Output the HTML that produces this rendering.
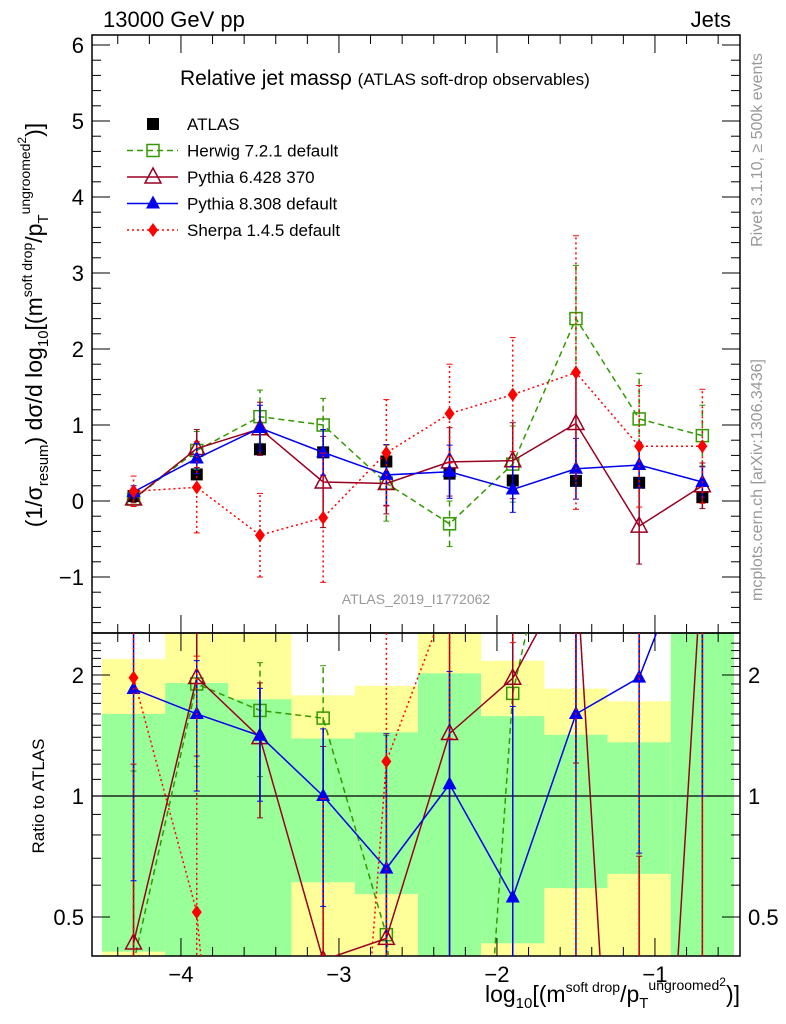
<!DOCTYPE html>
<html><head><meta charset="utf-8"><style>
html,body{margin:0;padding:0;background:#fff;overflow:hidden;width:786px;height:1024px;}
svg{display:block;}
svg text{font-family:"Liberation Sans",sans-serif;}
</style></head><body>
<svg id="c" width="786" height="1024" xmlns="http://www.w3.org/2000/svg"></svg>
<script>
const xCenters=[-4.3,-3.9,-3.5,-3.1,-2.7,-2.3,-1.9,-1.5,-1.1,-0.7];
const binEdges=[-4.5,-4.1,-3.7,-3.3,-2.9,-2.5,-2.1,-1.7,-1.3,-0.9,-0.5];
const atlasVals=[0.065,0.35,0.68,0.64,0.52,0.36,0.27,0.265,0.24,0.05];
const atlasErr=[0.03,0.05,0.06,0.06,0.07,0.08,0.06,0.06,0.06,0.04];
const herwigVals=[0.025,0.665,1.11,1.0,0.235,-0.30,0.486,2.40,1.08,0.86];
const herwigErr=[0.05,0.25,0.35,0.35,0.5,0.3,0.5,0.7,0.6,0.4];
const py6Vals=[0.028,0.69,0.95,0.25,0.23,0.515,0.53,1.02,-0.33,0.20];
const py6Err=[0.05,0.25,0.35,0.6,0.4,0.45,0.5,0.7,0.5,0.3];
const py8Vals=[0.12,0.56,0.96,0.64,0.343,0.385,0.151,0.424,0.473,0.25];
const py8Err=[0.08,0.2,0.3,0.3,0.4,0.35,0.3,0.4,0.3,0.2];
const sherpaVals=[0.128,0.18,-0.45,-0.22,0.634,1.15,1.40,1.69,0.72,0.72];
const sherpaErr=[0.2,0.6,0.55,0.85,0.7,0.65,0.75,1.8,0.8,0.75];
const greenLo=[0.41,0.3,0.3,0.61,0.57,0.3,0.43,0.59,0.64,0.3];
const greenHi=[1.60,1.91,1.74,1.39,1.44,2.02,1.58,1.42,1.36,3];
const yellowLo=[0.3,0.3,0.3,0.3,0.3,0.3,0.3,0.3,0.3,0.3];
const yellowHi=[2.19,3,3,1.78,1.88,3,2.17,1.85,1.72,3];
const mainYTicks=[-1,0,1,2,3,4,5,6];
const mainYLabels=["\u22121","0","1","2","3","4","5","6"];
const xTicks=[-4,-3,-2,-1];
const xLabels=["\u22124","\u22123","\u22122","\u22121"];
const ratioTicks=[0.5,1,2];
const ratioLabels=["0.5","1","2"];

const NS="http://www.w3.org/2000/svg";
const svg=document.getElementById('c');
const L=92,R=740,T=35,MB=633,RB=956;
const X=v=>L+(v+4.563)*158;
const Y=v=>501-v*76;
const YR=r=>796-Math.log2(r)*121;
function el(tag,at,parent){const e=document.createElementNS(NS,tag);for(const k in at)e.setAttribute(k,at[k]);(parent||svg).appendChild(e);return e;}
function txt(s,at,parent){const e=el('text',at,parent);e.textContent=s;return e;}

const defs=el('defs',{});
const cp1=el('clipPath',{id:'cm'},defs);el('rect',{x:L,y:T,width:R-L,height:MB-T},cp1);
const cp2=el('clipPath',{id:'cr'},defs);el('rect',{x:L,y:MB,width:R-L,height:RB-MB},cp2);

const gb=el('g',{'clip-path':'url(#cr)'});

for(let i=0;i<xCenters.length;i++){
  const x0=X(binEdges[i]),x1=X(binEdges[i+1]);
  const y=el('rect',{x:x0,y:YR(yellowHi[i]),width:x1-x0,height:YR(yellowLo[i])-YR(yellowHi[i]),fill:'#ffff99'},gb);
  
  const g=el('rect',{x:x0,y:YR(greenHi[i]),width:x1-x0,height:YR(greenLo[i])-YR(greenHi[i]),fill:'#99ff99'},gb);
  
}
el('line',{x1:L,x2:R,y1:YR(1),y2:YR(1),stroke:'#000','stroke-width':1.2});

el('rect',{x:L,y:T,width:R-L,height:MB-T,fill:'none',stroke:'#000','stroke-width':1.5});
el('rect',{x:L,y:MB,width:R-L,height:RB-MB,fill:'none',stroke:'#000','stroke-width':1.5});

for(let v=-1.6;v<=6.1;v+=0.2){const vv=Math.round(v*10)/10;const maj=Math.abs(vv-Math.round(vv))<1e-6;const len=maj?18:9;
  el('line',{x1:L,x2:L+len,y1:Y(vv),y2:Y(vv),stroke:'#000'});el('line',{x1:R,x2:R-len,y1:Y(vv),y2:Y(vv),stroke:'#000'});}
mainYTicks.forEach((v,i)=>{const t=txt(mainYLabels[i],{x:L-8,y:Y(v)+8,'font-size':22,'text-anchor':'end'});});
for(let v=-4.4;v<=-0.5;v+=0.2){const vv=Math.round(v*10)/10;const maj=Math.abs(vv-Math.round(vv))<1e-6;const len=maj?18:9;
  [MB,RB].forEach(b=>{el('line',{x1:X(vv),x2:X(vv),y1:b,y2:b-len,stroke:'#000'});});
  [T,MB].forEach(b=>{el('line',{x1:X(vv),x2:X(vv),y1:b,y2:b+len,stroke:'#000'});});}
xTicks.forEach((v,i)=>{const t=txt(xLabels[i],{x:X(v),y:RB+26,'font-size':22,'text-anchor':'middle'});});
for(let r=0.4;r<=2.5;r+=0.1){const rr=Math.round(r*10)/10;const maj=ratioTicks.includes(rr);const len=maj?18:9;
  el('line',{x1:L,x2:L+len,y1:YR(rr),y2:YR(rr),stroke:'#000'});el('line',{x1:R,x2:R-len,y1:YR(rr),y2:YR(rr),stroke:'#000'});}
ratioTicks.forEach((v,i)=>{
  const a=txt(ratioLabels[i],{x:L-8,y:YR(v)+8,'font-size':22,'text-anchor':'end'});
  const b=txt(ratioLabels[i],{x:R+8,y:YR(v)+8,'font-size':22});});

function marker(g,type,x,y,color){
  if(type==='sq-open')el('rect',{x:x-6,y:y-6,width:12,height:12,fill:'#fff','fill-opacity':0,stroke:color,'stroke-width':1.5},g);
  if(type==='sq')el('rect',{x:x-6,y:y-6,width:12,height:12,fill:color},g);
  if(type==='tri-open')el('path',{d:`M${x},${y-9}L${x+8},${y+6}L${x-8},${y+6}Z`,fill:'none',stroke:color,'stroke-width':1.5},g);
  if(type==='tri')el('path',{d:`M${x},${y-8}L${x+7},${y+5}L${x-7},${y+5}Z`,fill:color},g);
  if(type==='dia')el('path',{d:`M${x},${y-7}L${x+5},${y}L${x},${y+7}L${x-5},${y}Z`,fill:color},g);
}
const series=[
 {n:'herwig',v:herwigVals,e:herwigErr,c:'#339900',d:'6,4',m:'sq-open'},
 {n:'pythia6',v:py6Vals,e:py6Err,c:'#990022',d:'',m:'tri-open'},
 {n:'pythia8',v:py8Vals,e:py8Err,c:'#0000ee',d:'',m:'tri'},
 {n:'sherpa',v:sherpaVals,e:sherpaErr,c:'#ff0000',d:'2,3',m:'dia'}];
function draw(s,ratio){
  const g=el('g',{'clip-path':ratio?'url(#cr)':'url(#cm)'});
  
  
  const yf=ratio?(i=>YR(Math.max(s.v[i]/atlasVals[i],0.01))):(i=>Y(s.v[i]));
  const lo=ratio?(i=>YR(Math.max((s.v[i]-s.e[i])/atlasVals[i],0.01))):(i=>Y(s.v[i]-s.e[i]));
  const hi=ratio?(i=>YR(Math.max((s.v[i]+s.e[i])/atlasVals[i],0.01))):(i=>Y(s.v[i]+s.e[i]));
  for(let i=0;i<xCenters.length;i++){const x=X(xCenters[i]);
    el('line',{x1:x,x2:x,y1:lo(i),y2:hi(i),stroke:s.c,'stroke-width':1.5,'stroke-dasharray':s.d},g);
    el('line',{x1:x-3,x2:x+3,y1:lo(i),y2:lo(i),stroke:s.c},g);el('line',{x1:x-3,x2:x+3,y1:hi(i),y2:hi(i),stroke:s.c},g);}
  el('polyline',{points:xCenters.map((x,i)=>X(x)+','+yf(i)).join(' '),fill:'none',stroke:s.c,'stroke-width':1.5,'stroke-dasharray':s.d},g);
  for(let i=0;i<xCenters.length;i++)marker(g,s.m,X(xCenters[i]),yf(i),s.c);
}
const ga=el('g',{});
for(let i=0;i<xCenters.length;i++){const x=X(xCenters[i]);
  el('line',{x1:x,x2:x,y1:Y(atlasVals[i]-atlasErr[i]),y2:Y(atlasVals[i]+atlasErr[i]),stroke:'#000','stroke-width':1.5},ga);
  marker(ga,'sq',x,Y(atlasVals[i]),'#000');}
series.forEach(s=>{draw(s,false);draw(s,true);});

const leg=[['ATLAS','#000','','sq'],['Herwig 7.2.1 default','#339900','6,4','sq-open'],['Pythia 6.428 370','#990022','','tri-open'],['Pythia 8.308 default','#0000ee','','tri'],['Sherpa 1.4.5 default','#ff0000','2,3','dia']];
leg.forEach((l,i)=>{const y=124+i*26.5;const g=el('g',{});
  if(i>0)el('line',{x1:127,x2:178,y1:y,y2:y,stroke:l[1],'stroke-width':1.5,'stroke-dasharray':l[2]},g);
  marker(g,l[3],153,y,l[1]);
  txt(l[0],{x:187,y:y+6,'font-size':17},g);});

const t1=txt('13000 GeV pp',{x:103,y:27,'font-size':22});
const t2=txt('Jets',{x:731,y:27,'font-size':22,'text-anchor':'end'});
const t3=txt('',{x:180,y:85,'font-size':21});
t3.innerHTML='Relative jet mass\u03c1 <tspan font-size="17">(ATLAS soft-drop observables)</tspan>';
const t4=txt('ATLAS_2019_I1772062',{x:416,y:604,'font-size':14,fill:'#999','text-anchor':'middle'});
const t5=txt('Ratio to ATLAS',{x:0,y:0,'font-size':17,'text-anchor':'middle',transform:'translate(44,796) rotate(-90)'});
const t6=txt('',{x:0,y:0,'font-size':23,'text-anchor':'middle',transform:'translate(42,325) rotate(-90)'});
t6.innerHTML='(1/\u03c3<tspan font-size="15" dy="6">resum</tspan><tspan dy="-6">) d\u03c3/d log</tspan><tspan font-size="15" dy="6">10</tspan><tspan dy="-6">[(m</tspan><tspan font-size="14" dy="-10">soft drop</tspan><tspan dy="10">/p</tspan><tspan font-size="15" dy="6">T</tspan><tspan font-size="14" dy="-18">ungroomed</tspan><tspan font-size="12" dy="-4">2</tspan><tspan dy="16">)]</tspan>';
const t7=txt('',{x:740,y:1002,'font-size':23,'text-anchor':'end'});
t7.innerHTML='log<tspan font-size="15" dy="6">10</tspan><tspan dy="-6">[(m</tspan><tspan font-size="14" dy="-10">soft drop</tspan><tspan dy="10">/p</tspan><tspan font-size="15" dy="6">T</tspan><tspan font-size="14" dy="-18">ungroomed</tspan><tspan font-size="12" dy="-4">2</tspan><tspan dy="16">)]</tspan>';
const t8=txt('Rivet 3.1.10, \u2265 500k events',{x:0,y:0,'font-size':16,fill:'#999','text-anchor':'middle',transform:'translate(762,150) rotate(-90)'});
const t9=txt('mcplots.cern.ch [arXiv:1306.3436]',{x:0,y:0,'font-size':16,fill:'#999','text-anchor':'middle',transform:'translate(762,480) rotate(-90)'});
</script>
</body></html>
